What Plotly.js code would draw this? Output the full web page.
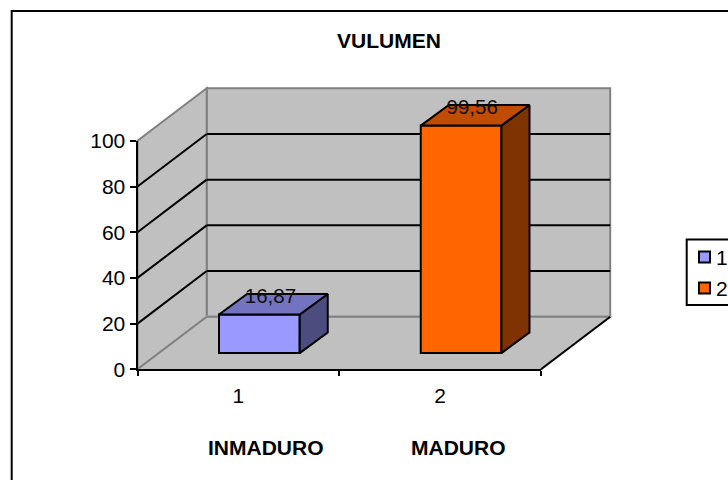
<!DOCTYPE html>
<html>
<head>
<meta charset="utf-8">
<script src="https://cdn.plot.ly/plotly-3.0.1.min.js"></script>
<style>html,body{margin:0;padding:0;background:#fff;overflow:hidden}</style>
</head>
<body>
<div id="chart" style="width:728px;height:480px"></div>
<script>
const categories = ['1', '2'];
const values = [16.87, 99.56];
const yTicks = [0, 20, 40, 60, 80, 100];
const frontColors = ['#9999FF', '#FF6600'];
const topColors = ['#7373BF', '#BF4C00'];
const sideColors = ['#4C4C7F', '#7F3300'];
const titleText = 'VULUMEN';
const axisTitleLeft = 'INMADURO';
const axisTitleRight = 'MADURO';

const W = 728, H = 480;
const X0 = 137.5, Y0 = 369.3, PX = 201.75, PY = 2.285;
const wallDx = 0.343, wallDy = 23;
const barDx = 0.139, barDy = 9;
const floorBase = 7.1, barWidth = 0.4, barOffset = 0.604;
const PADX = 0.03, PADY = 2;
const xMax = categories.length;
const FONT = '"Liberation Sans", Arial, sans-serif';
const px = v => v / W, py = v => 1 - v / H;

const shapes = [];
const ln = (color) => ({color: color, width: 2});
const poly = (pts, fill, color) => shapes.push({
  type: 'path', xref: 'x', yref: 'y', layer: 'below',
  path: 'M' + pts.map(p => p.join(',')).join('L') + 'Z',
  fillcolor: fill, line: ln(color)
});
const seg = (x0, y0, x1, y1, color) => shapes.push({
  type: 'line', xref: 'x', yref: 'y', layer: 'below', x0, y0, x1, y1, line: ln(color)
});
const yMax = yTicks[yTicks.length - 1];
poly([[wallDx, wallDy], [xMax + wallDx, wallDy], [xMax + wallDx, yMax + wallDy], [wallDx, yMax + wallDy]], '#C0C0C0', '#808080');
poly([[0, 0], [wallDx, wallDy], [wallDx, yMax + wallDy], [0, yMax]], '#C0C0C0', '#808080');
poly([[0, 0], [xMax, 0], [xMax + wallDx, wallDy], [wallDx, wallDy]], '#C0C0C0', '#C0C0C0');
seg(0, 0, wallDx, wallDy, '#808080');
seg(wallDx, wallDy, xMax + wallDx, wallDy, '#808080');
seg(xMax, 0, xMax + wallDx, wallDy, '#000000');
yTicks.slice(1, -1).forEach(t => {
  seg(0, t, wallDx, t + wallDy, '#000000');
  seg(wallDx, t + wallDy, xMax + wallDx, t + wallDy, '#000000');
});

// outer chart frame, running off the page at right and bottom
shapes.push({type: 'rect', xref: 'paper', yref: 'paper', x0: px(11.7), x1: 1.1, y0: -0.1, y1: py(11), line: {color: '#000', width: 2}, fillcolor: 'rgba(0,0,0,0)'});
// legend box and swatches
shapes.push({type: 'rect', xref: 'paper', yref: 'paper', x0: px(686.7), x1: 1.1, y0: py(305), y1: py(239.5), line: {color: '#000', width: 2}, fillcolor: '#fff'});

const annotations = [];
categories.forEach((c, i) => {
  const yc = 257 + i * 31;
  shapes.push({type: 'rect', xref: 'paper', yref: 'paper', x0: px(699), x1: px(710), y0: py(yc + 5.5), y1: py(yc - 5.5), line: {color: '#000', width: 2}, fillcolor: frontColors[i]});
  annotations.push({xref: 'paper', yref: 'paper', x: px(716), y: py(yc), xanchor: 'left', yanchor: 'middle', showarrow: false, text: c, font: {family: FONT, size: 21, color: '#000'}, borderpad: 0, xshift: -1});
});

const traces = [];
categories.forEach((c, i) => {
  const l = i + barOffset - barWidth / 2, r = i + barOffset + barWidth / 2;
  const b = floorBase, t = floorBase + values[i];
  traces.push({type: 'bar', name: c, x: [i + barOffset], y: [values[i]], base: [floorBase], width: [barWidth],
    marker: {color: frontColors[i], line: {color: '#000', width: 2}}, showlegend: false, hoverinfo: 'skip'});
  traces.push({type: 'scatter', mode: 'lines', x: [r, r + barDx, r + barDx, r, r], y: [b, b + barDy, t + barDy, t, b], fill: 'toself', fillcolor: sideColors[i],
    line: {color: '#000', width: 2}, showlegend: false, hoverinfo: 'skip'});
  traces.push({type: 'scatter', mode: 'lines', x: [l, l + barDx, r + barDx, r, l], y: [t, t + barDy, t + barDy, t, t], fill: 'toself', fillcolor: topColors[i],
    line: {color: '#000', width: 2}, showlegend: false, hoverinfo: 'skip'});
});
traces.push({type: 'scatter', mode: 'text', x: categories.map((c, i) => i + barOffset + 0.055), y: values.map(v => v + floorBase + barDy - 1.6),
  text: values.map(v => v.toFixed(2).replace('.', ',')), textposition: 'middle center', textfont: {family: FONT, size: 20.5, color: '#111'}, showlegend: false, hoverinfo: 'skip'});
// carrier for the visible front axes
traces.push({type: 'scatter', mode: 'markers', x: [0], y: [0], xaxis: 'x2', yaxis: 'y2', marker: {opacity: 0}, showlegend: false, hoverinfo: 'skip'});

const nb = n => '\u00A0'.repeat(n);
const layout = {
  width: W, height: H, margin: {l: 0, r: 0, t: 0, b: 0}, autosize: false,
  paper_bgcolor: '#fff', plot_bgcolor: 'rgba(0,0,0,0)', showlegend: false, bargap: 0,
  font: {family: FONT, color: '#000'},
  title: {text: titleText, x: 389 / W, xanchor: 'center', y: py(41), yanchor: 'middle', font: {family: FONT, size: 21, weight: 700, color: '#000'}},
  xaxis: {visible: false, range: [-PADX, xMax + wallDx + PADX], fixedrange: true,
    domain: [px(X0 - PADX * PX), px(X0 + (xMax + wallDx + PADX) * PX)]},
  yaxis: {visible: false, range: [-PADY, yMax + wallDy + PADY], fixedrange: true,
    domain: [py(Y0 + PADY * PY), py(Y0 - (yMax + wallDy + PADY) * PY)]},
  xaxis2: {anchor: 'y2', range: [0, xMax], domain: [px(X0), px(X0 + xMax * PX)], fixedrange: true, zeroline: false, showgrid: false,
    showline: true, linecolor: '#000', linewidth: 2,
    tickmode: 'array', tickvals: categories.map((c, i) => i + 0.5), ticktext: categories, ticks: '', ticklabelstandoff: 6,
    tickfont: {family: FONT, size: 21, color: '#000'},
    minor: {tickmode: 'array', tickvals: [0, 1, 2], ticks: 'outside', ticklen: 5, tickwidth: 2, tickcolor: '#000', showgrid: false},
    title: {text: '\u200B' + nb(6) + axisTitleLeft + nb(15) + axisTitleRight, standoff: 35, font: {family: FONT, size: 21, weight: 700, color: '#000'}}},
  yaxis2: {anchor: 'x2', range: [0, yMax], domain: [py(Y0), py(Y0 - yMax * PY)], fixedrange: true, zeroline: false, showgrid: false,
    showline: true, linecolor: '#000', linewidth: 2,
    tickmode: 'array', tickvals: yTicks, ticks: 'outside', ticklen: 6, tickwidth: 2, tickcolor: '#000',
    tickfont: {family: FONT, size: 21, color: '#000'}},
  shapes: shapes, annotations: annotations
};
Plotly.newPlot('chart', traces, layout, {displayModeBar: false, staticPlot: true});
</script>
</body>
</html>
